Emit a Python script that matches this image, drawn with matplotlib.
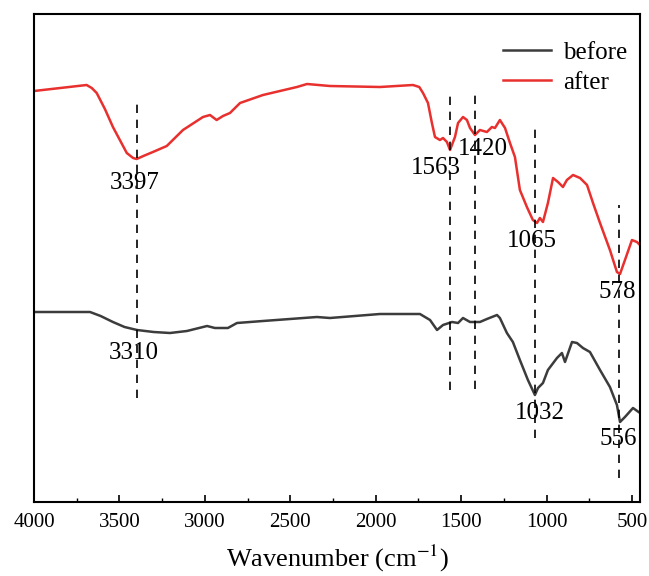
import numpy as np
import matplotlib.pyplot as plt
from matplotlib.ticker import MultipleLocator

# ------------------- DATA -------------------
# after adsorption (red)
after_wn = [4000, 3692, 3662, 3633, 3585, 3538, 3457, 3420, 3399, 3360, 3304, 3223,
            3128, 3011, 2970, 2931, 2894, 2853, 2794, 2660, 2461, 2402, 2268, 1975,
            1782, 1745, 1723, 1694, 1671, 1653, 1624, 1606, 1583, 1565, 1536, 1518,
            1489, 1466, 1448, 1419, 1390, 1349, 1320, 1302, 1273, 1243, 1214, 1185,
            1156, 1115, 1080, 1056, 1039, 1021, 992, 962, 933, 904, 881, 845, 804,
            763, 728, 687, 629, 588, 570, 541, 500, 471, 436]
after_t = [411, 417, 414, 409, 393, 375, 349, 344, 343, 346, 350, 356,
           372, 385, 387, 382, 386, 389, 399, 407, 415, 418, 416, 415,
           417, 415, 409, 399, 379, 365, 362, 364, 360, 352, 365, 379,
           385, 382, 374, 367, 372, 370, 375, 374, 382, 374, 359, 345,
           312, 295, 282, 279, 284, 280, 299, 324, 320, 315, 322, 327, 324,
           317, 299, 279, 252, 230, 228, 242, 262, 260, 254]

# before adsorption (dark grey)
before_wn = [4000, 3672, 3610, 3538, 3470, 3397, 3300, 3204, 3105, 2987, 2941, 2865,
             2812, 2660, 2344, 2268, 1975, 1741, 1682, 1641, 1606, 1553, 1518, 1489,
             1448, 1390, 1349, 1290, 1273, 1232, 1197, 1156, 1109, 1068, 1050, 1021,
             992, 939, 910, 892, 851, 822, 787, 746, 687, 629, 588, 570, 541, 494, 453]
before_t = [190, 190, 186, 180, 175, 172, 170, 169, 171, 176, 174, 174,
            179, 181, 185, 184, 188, 188, 182, 172, 177, 180, 179, 184,
            180, 180, 183, 187, 184, 169, 160, 142, 122, 107, 114, 119,
            132, 144, 149, 140, 160, 159, 154, 150, 132, 115, 97, 80, 85, 94, 89]

# dashed peak markers
peak_wn = [3397, 1563, 1420, 1065, 578]
peak_lo = [104, 112, 113, 64, 24]
peak_hi = [402, 409, 407, 375, 297]

# peak labels
label_txt = ["3397", "3310", "1563", "1420", "1065", "578", "1032", "556"]
label_wn = [3409, 3415, 1647, 1372, 1085, 588, 1039, 582]
label_t = [319, 149, 334, 353, 261, 210, 89, 63]

# ------------------- PLOT -------------------
plt.rcParams['font.family'] = ['Liberation Serif', 'DejaVu Serif']
plt.rcParams['mathtext.fontset'] = 'stix'

fig = plt.figure(figsize=(6.49, 5.76), dpi=100)
ax = fig.add_axes([34 / 649, 1 - 502 / 576, 606 / 649, 488 / 576])

ax.plot(before_wn, before_t, color='#3c3c3c', lw=1.8, label='before')
ax.plot(after_wn, after_t, color='#e8302e', lw=1.8, label='after')

for wn, lo, hi in zip(peak_wn, peak_lo, peak_hi):
    ax.plot([wn, wn], [lo, hi], color='black', lw=1.2, ls=(0, (5, 4)))

for txt, wn, t in zip(label_txt, label_wn, label_t):
    ax.text(wn, t, txt, ha='center', va='center', fontsize=18)

ax.set_xlim(4000, 453)
ax.set_ylim(0, 488)
ax.xaxis.set_major_locator(MultipleLocator(500))
ax.xaxis.set_minor_locator(MultipleLocator(250))
ax.tick_params(axis='x', which='major', direction='in', length=5, width=1.2,
               labelsize=15, pad=8, top=False)
ax.tick_params(axis='x', which='minor', direction='in', length=3, width=1.0, top=False)
ax.set_yticks([])
for s in ax.spines.values():
    s.set_linewidth(1.5)

ax.set_xlabel('Wavenumber (cm$^{-1}$)', fontsize=19, labelpad=8)

ax.legend(loc='upper right', bbox_to_anchor=(1.008, 0.98), frameon=False,
          fontsize=18, handlelength=1.9, handletextpad=0.5, labelspacing=0.3,
          borderaxespad=0.3)

fig.savefig('out.png', dpi=100)
